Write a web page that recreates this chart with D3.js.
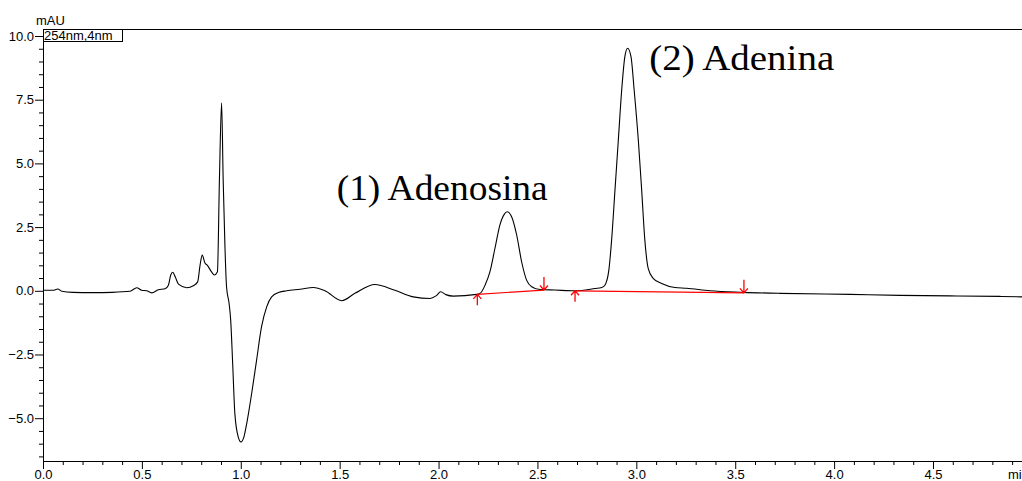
<!DOCTYPE html>
<html>
<head>
<meta charset="utf-8">
<script src="https://cdn.jsdelivr.net/npm/d3@7"></script>
<style>
  body { margin: 0; background: #fff; overflow: hidden; }
  svg { display: block; }
</style>
</head>
<body>
<svg id="chart"></svg>
<script>
const width = 1022;
const height = 481;

// chromatogram, time (min) and signal (mAU)
const times = [0.00, 0.05, 0.075, 0.095, 0.15, 0.25, 0.35, 0.44, 0.474, 0.499, 0.524, 0.550, 0.583, 0.617, 0.634, 0.646, 0.656, 0.669, 0.685, 0.727, 0.760, 0.782, 0.794, 0.805, 0.819, 0.831, 0.853, 0.866, 0.882, 0.892, 0.903, 0.911, 0.920, 0.928, 0.941, 0.949, 0.959, 0.970, 0.987, 1.001, 1.016, 1.030, 1.055, 1.080, 1.105, 1.131, 1.156, 1.194, 1.232, 1.300, 1.367, 1.426, 1.510, 1.577, 1.678, 1.779, 1.872, 1.957, 1.987, 2.011, 2.037, 2.074, 2.193, 2.213, 2.235, 2.260, 2.285, 2.310, 2.332, 2.347, 2.370, 2.395, 2.420, 2.445, 2.471, 2.513, 2.588, 2.690, 2.791, 2.825, 2.841, 2.861, 2.875, 2.892, 2.909, 2.926, 2.942, 2.956, 2.973, 2.989, 3.010, 3.027, 3.043, 3.060, 3.085, 3.128, 3.195, 3.254, 3.372, 3.540, 3.726, 4.080, 4.333, 4.585, 4.838, 4.950];
const signal = [0.02, 0.02, 0.07, -0.02, -0.06, -0.07, -0.06, -0.02, 0.12, 0.02, 0.00, -0.08, 0.04, 0.08, 0.22, 0.62, 0.73, 0.54, 0.26, 0.12, 0.20, 0.35, 1.00, 1.40, 1.09, 1.00, 0.73, 0.62, 0.75, 4.35, 7.38, 4.35, 1.73, 0.16, -0.50, -1.15, -2.85, -4.81, -5.73, -5.93, -5.73, -5.21, -4.03, -2.72, -1.41, -0.63, -0.24, -0.06, 0.00, 0.06, 0.13, 0.00, -0.39, -0.10, 0.25, 0.02, -0.24, -0.30, -0.20, -0.04, -0.15, -0.21, -0.14, -0.08, 0.22, 0.75, 1.66, 2.58, 3.00, 3.10, 2.90, 2.19, 1.14, 0.42, 0.16, 0.05, 0.03, 0.00, 0.09, 0.13, 0.22, 0.81, 1.99, 3.95, 5.92, 7.88, 9.19, 9.52, 9.19, 7.88, 5.92, 3.95, 1.99, 0.88, 0.49, 0.29, 0.13, 0.10, 0.00, -0.06, -0.10, -0.14, -0.18, -0.20, -0.22, -0.24];

// integration baselines (red)
const baseStartT = [2.196, 2.690];
const baseStartV = [-0.14, 0.00];
const baseEndT = [2.533, 3.544];
const baseEndV = [0.03, -0.08];

// peak names
const peakNames = ["(1) Adenosina", "(2) Adenina"];
const peakLabelT = [1.485, 3.065];
const peakLabelV = [3.56, 8.68];

const xMajor = [0.0, 0.5, 1.0, 1.5, 2.0, 2.5, 3.0, 3.5, 4.0, 4.5];
const yMajor = [-5.0, -2.5, 0.0, 2.5, 5.0, 7.5, 10.0];

const svg = d3.select("#chart")
    .attr("width", width)
    .attr("height", height);

const x = d3.scaleLinear().domain([0, 4.95]).range([43, 1022]);
const y = d3.scaleLinear().domain([-6.68, 10.275]).range([461, 29]);

const fmt = d3.format(".1f");
const sans = "'Liberation Sans', Arial, sans-serif";

// minor ticks
const xMinor = d3.range(1, 50).map(i => i / 10).filter(v => Math.abs(v * 2 - Math.round(v * 2)) > 1e-6);
const yMinor = d3.range(-13, 21).map(i => i / 2).filter(v => Math.abs(v / 2.5 - Math.round(v / 2.5)) > 1e-6);

svg.append("g")
    .attr("transform", "translate(0,461)")
    .call(d3.axisBottom(x).tickValues(xMinor).tickSize(4).tickFormat("").tickSizeOuter(0));
svg.append("g")
    .attr("transform", "translate(43,0)")
    .call(d3.axisLeft(y).tickValues(yMinor).tickSize(4).tickFormat("").tickSizeOuter(0));

const xAxis = svg.append("g")
    .attr("transform", "translate(0,461)")
    .call(d3.axisBottom(x).tickValues(xMajor).tickSize(8).tickPadding(1).tickFormat(fmt).tickSizeOuter(0));
const yAxis = svg.append("g")
    .attr("transform", "translate(43,0)")
    .call(d3.axisLeft(y).tickValues(yMajor).tickSize(8).tickPadding(1).tickFormat(fmt).tickSizeOuter(0));

svg.selectAll(".tick line").attr("stroke", "#000");
svg.selectAll(".domain").attr("stroke", "#000");
svg.selectAll(".tick text")
    .attr("fill", "#000")
    .attr("font-family", sans)
    .attr("font-size", 13);

// unit label, cut by the right edge as in the instrument printout
xAxis.append("text")
    .attr("x", 1008)
    .attr("y", 9)
    .attr("dy", "0.71em")
    .attr("fill", "#000")
    .attr("font-family", sans)
    .attr("font-size", 13)
    .attr("text-anchor", "start")
    .text("min");

// top frame line
svg.append("line")
    .attr("x1", 43).attr("x2", 1022)
    .attr("y1", 29.5).attr("y2", 29.5)
    .attr("stroke", "#000");

svg.append("text")
    .attr("x", 36)
    .attr("y", 25)
    .attr("font-family", sans)
    .attr("font-size", 13)
    .text("mAU");

// detector box
svg.append("rect")
    .attr("x", 43.5).attr("y", 29.5)
    .attr("width", 79).attr("height", 12)
    .attr("fill", "#fff")
    .attr("stroke", "#000");
svg.append("text")
    .attr("x", 44)
    .attr("y", 39.5)
    .attr("font-family", sans)
    .attr("font-size", 13)
    .text("254nm,4nm");

// trace
const pts = times.map((t, i) => [t, signal[i]]);
const line = d3.line()
    .x(d => x(d[0]))
    .y(d => y(d[1]))
    .curve(d3.curveMonotoneX);

svg.append("path")
    .datum(pts)
    .attr("d", line)
    .attr("fill", "none")
    .attr("stroke", "#000")
    .attr("stroke-width", 1.1);

// baselines and markers
const red = "#ff0000";
baseStartT.forEach((t0, i) => {
    const x0 = x(t0), y0 = y(baseStartV[i]);
    const x1 = x(baseEndT[i]), y1 = y(baseEndV[i]);
    svg.append("line")
        .attr("x1", x0).attr("y1", y0).attr("x2", x1).attr("y2", y1)
        .attr("stroke", red).attr("stroke-width", 1.2);
    // start marker: arrow pointing up from below
    svg.append("path")
        .attr("d", `M${x0},${y0 + 11}V${y0}M${x0 - 4},${y0 + 4.5}L${x0},${y0}L${x0 + 4},${y0 + 4.5}`)
        .attr("fill", "none").attr("stroke", red).attr("stroke-width", 1.3);
    // end marker: arrow pointing down from above
    svg.append("path")
        .attr("d", `M${x1},${y1 - 13}V${y1}M${x1 - 4},${y1 - 4.5}L${x1},${y1}L${x1 + 4},${y1 - 4.5}`)
        .attr("fill", "none").attr("stroke", red).attr("stroke-width", 1.3);
});

// peak labels (stretched slightly to the reference width)
const labelWidths = [211, 185];
svg.selectAll("text.peak")
    .data(peakNames)
    .enter().append("text")
    .attr("class", "peak")
    .attr("x", (d, i) => x(peakLabelT[i]))
    .attr("y", (d, i) => y(peakLabelV[i]))
    .attr("font-family", "'Liberation Serif', 'Times New Roman', serif")
    .attr("font-size", 36)
    .attr("textLength", (d, i) => labelWidths[i])
    .attr("lengthAdjust", "spacingAndGlyphs")
    .attr("fill", "#000")
    .text(d => d);
</script>
</body>
</html>
